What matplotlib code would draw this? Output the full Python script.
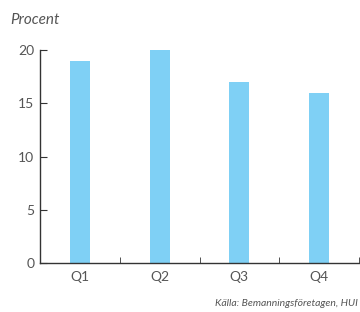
import numpy as np
import matplotlib.pyplot as plt

categories = ['Q1', 'Q2', 'Q3', 'Q4']
values = [19, 20, 17, 16]
yticks = [0, 5, 10, 15, 20]

plt.rcParams['font.family'] = ['Lato', 'DejaVu Sans']

fig = plt.figure(figsize=(3.6, 3.12), dpi=100)
ax = fig.add_axes([40/360, 1 - 263/312, 319/360, 213/312])

x = np.arange(len(categories))
ax.bar(x, values, width=0.25, color='#7fd0f5', zorder=2)

ax.set_xlim(-0.5, len(categories) - 0.5)
ax.set_ylim(0, 20)
ax.set_yticks(yticks)
ax.set_yticklabels([str(v) for v in yticks], color='#555555', fontsize=10)
ax.set_xticks(x)
ax.set_xticklabels(categories, color='#555555', fontsize=10)
ax.tick_params(axis='x', length=0, pad=6)
ax.set_xticks(np.arange(len(categories) + 1) - 0.5, minor=True)
ax.tick_params(axis='x', which='minor', direction='in', length=4, color='#333333')
ax.tick_params(axis='y', direction='in', length=5, color='#333333', pad=4)

for s in ['top', 'right']:
    ax.spines[s].set_visible(False)
for s in ['left', 'bottom']:
    ax.spines[s].set_color('#333333')
    ax.spines[s].set_linewidth(1.0)

fig.text(10/360, 1 - 20/312, 'Procent', style='italic', color='#555555',
         fontsize=11, va='center', ha='left')
fig.text(358/360, 1 - 303/312, 'Källa: Bemanningsföretagen, HUI', style='italic',
         color='#555555', fontsize=7.5, va='center', ha='right')

fig.savefig('out.png', dpi=100)
